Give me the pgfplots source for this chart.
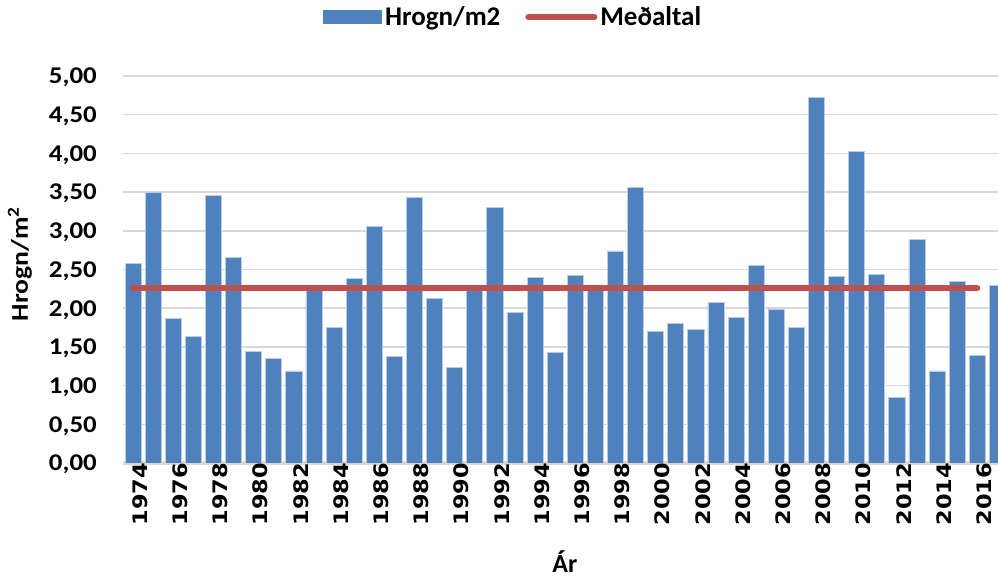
\documentclass[border=0pt]{standalone}
\usepackage{fontspec}
\setmainfont{Carlito}
\newfontfamily\dejavu{DejaVu Sans}
\usepackage{pgfplots}
\pgfplotsset{compat=1.18}
\definecolor{barblue}{HTML}{4F81BD}
\definecolor{baredge}{HTML}{B9CDE5}
\definecolor{meanred}{HTML}{C0504D}
\definecolor{gridgray}{HTML}{D9D9D9}
\newcommand{\xl}[1]{\scalebox{1.18}[1.05]{#1}}
\newcommand{\yl}[1]{\scalebox{1.12}[1]{#1}}
\begin{document}
\begin{tikzpicture}
\useasboundingbox (0,0) rectangle (998bp,578bp);
\begin{axis}[
  at={(123bp,115bp)}, anchor=south west,
  scale only axis, width=875bp, height=387bp,
  xmin=-0.5, xmax=43.03, ymin=0, ymax=5,
  axis x line*=bottom, axis y line*=left,
  y axis line style={draw=none},
  x axis line style={draw=gridgray, line width=3bp},
  major tick length=0pt,
  ymajorgrids, grid style={draw=gridgray, line width=1.5bp},
  xtick={0,2,...,42},
  xticklabels={\xl{1974},\xl{1976},\xl{1978},\xl{1980},\xl{1982},\xl{1984},\xl{1986},\xl{1988},\xl{1990},\xl{1992},\xl{1994},\xl{1996},\xl{1998},\xl{2000},\xl{2002},\xl{2004},\xl{2006},\xl{2008},\xl{2010},\xl{2012},\xl{2014},\xl{2016}},
  xticklabel style={rotate=90, anchor=east, inner sep=0pt, yshift=-7bp, font=\dejavu\bfseries\fontsize{19bp}{19bp}\selectfont},
  ytick={0,0.5,1,1.5,2,2.5,3,3.5,4,4.5,5},
  yticklabels={\yl{0,00},\yl{0,50},\yl{1,00},\yl{1,50},\yl{2,00},\yl{2,50},\yl{3,00},\yl{3,50},\yl{4,00},\yl{4,50},\yl{5,00}},
  yticklabel style={anchor=east, inner sep=0pt, text depth=0pt, xshift=-26bp, font=\bfseries\fontsize{24bp}{24bp}\selectfont},
  xlabel={Ár},
  xlabel style={at={(axis description cs:0.505,0)}, anchor=base, yshift=-109bp, inner sep=0pt, font=\bfseries\fontsize{26bp}{26bp}\selectfont},
  ylabel={\scalebox{1.15}[1]{Hrogn/m\textsuperscript{2}}},
  ylabel style={at={(axis description cs:-0.1086,0.514)}, anchor=base, inner sep=0pt, font=\bfseries\fontsize{24bp}{24bp}\selectfont},
  legend columns=2,
  legend style={at={(axis description cs:0.4465,1.152)}, anchor=center, draw=none, fill=none,
    font=\bfseries\fontsize{27bp}{30bp}\selectfont,
    nodes={inner xsep=3bp, inner ysep=1bp},
    /tikz/every even column/.append style={column sep=22bp}},
]
\addplot[ybar, bar width=0.8, fill=barblue, draw=baredge, line width=0.75bp,
  area legend,
  legend image code/.code={\fill[barblue] (0bp,-6.5bp) rectangle (58bp,6.5bp);}]
coordinates {
(0,2.58) (1,3.49) (2,1.87) (3,1.64) (4,3.46) (5,2.66) (6,1.44) (7,1.35) (8,1.19) (9,2.25)
(10,1.75) (11,2.38) (12,3.06) (13,1.38) (14,3.43) (15,2.13) (16,1.23) (17,2.29) (18,3.30) (19,1.94)
(20,2.40) (21,1.43) (22,2.42) (23,2.23) (24,2.74) (25,3.56) (26,1.70) (27,1.80) (28,1.72) (29,2.07)
(30,1.88) (31,2.55) (32,1.99) (33,1.75) (34,4.72) (35,2.41) (36,4.03) (37,2.44) (38,0.85) (39,2.89)
(40,1.19) (41,2.35) (42,1.39) (43,2.29)
};
\addlegendentry{Hrogn/m2}
\addplot[meanred, line width=6bp, line cap=round, mark=none,
  legend image code/.code={\draw[meanred, line width=6bp, line cap=round] (3bp,0bp) -- (61bp,0bp); \path (0bp,0bp) -- (66bp,0bp);}]
coordinates {
(0,2.26) (1,2.26) (2,2.26) (3,2.26) (4,2.26) (5,2.26) (6,2.26) (7,2.26) (8,2.26) (9,2.26)
(10,2.26) (11,2.26) (12,2.26) (13,2.26) (14,2.26) (15,2.26) (16,2.26) (17,2.26) (18,2.26) (19,2.26)
(20,2.26) (21,2.26) (22,2.26) (23,2.26) (24,2.26) (25,2.26) (26,2.26) (27,2.26) (28,2.26) (29,2.26)
(30,2.26) (31,2.26) (32,2.26) (33,2.26) (34,2.26) (35,2.26) (36,2.26) (37,2.26) (38,2.26) (39,2.26)
(40,2.26) (41,2.26) (42,2.26)
};
\addlegendentry{Meðaltal}
\end{axis}
\end{tikzpicture}
\end{document}
